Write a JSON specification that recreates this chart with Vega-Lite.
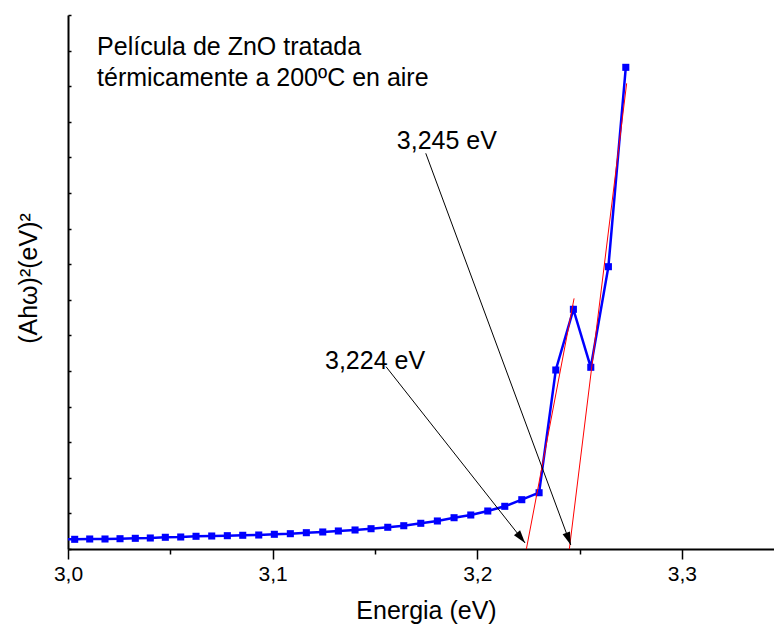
{
  "$schema": "https://vega.github.io/schema/vega-lite/v6.json",
  "width": 706,
  "height": 534,
  "autosize": "none",
  "padding": {"left": 68, "top": 15, "right": 0, "bottom": 79},
  "background": "white",
  "config": {"view": {"stroke": null}, "font": "Liberation Sans"},
  "datasets": {
    "spectrum": [
      {"E": 2.99604, "A": 0.27},
      {"E": 3.00327, "A": 0.272},
      {"E": 3.01061, "A": 0.281},
      {"E": 3.01808, "A": 0.281},
      {"E": 3.02542, "A": 0.289},
      {"E": 3.03289, "A": 0.300},
      {"E": 3.04022, "A": 0.309},
      {"E": 3.04756, "A": 0.329},
      {"E": 3.05508, "A": 0.337},
      {"E": 3.06256, "A": 0.357},
      {"E": 3.07023, "A": 0.365},
      {"E": 3.07786, "A": 0.374},
      {"E": 3.08539, "A": 0.385},
      {"E": 3.09321, "A": 0.393},
      {"E": 3.10083, "A": 0.413},
      {"E": 3.10865, "A": 0.430},
      {"E": 3.11647, "A": 0.458},
      {"E": 3.12449, "A": 0.478},
      {"E": 3.13211, "A": 0.506},
      {"E": 3.14027, "A": 0.534},
      {"E": 3.14809, "A": 0.570},
      {"E": 3.15626, "A": 0.610},
      {"E": 3.16408, "A": 0.654},
      {"E": 3.17239, "A": 0.722},
      {"E": 3.18050, "A": 0.787},
      {"E": 3.18866, "A": 0.879},
      {"E": 3.19682, "A": 0.955},
      {"E": 3.20513, "A": 1.067},
      {"E": 3.21344, "A": 1.199},
      {"E": 3.22175, "A": 1.385},
      {"E": 3.23021, "A": 1.581},
      {"E": 3.23837, "A": 5.028},
      {"E": 3.24697, "A": 6.733},
      {"E": 3.25547, "A": 5.104},
      {"E": 3.26408, "A": 7.930},
      {"E": 3.27258, "A": 13.53}
    ],
    "fits": [
      {"gap": "3,224 eV", "E": 3.224, "A": 0, "E2": 3.2473, "A2": 7.04},
      {"gap": "3,245 eV", "E": 3.245, "A": 0, "E2": 3.273, "A2": 13.08}
    ],
    "arrows": [
      {"gap": "3,224 eV", "E": 3.15543, "A": 5.12, "E2": 3.22336, "A2": 0.169},
      {"gap": "3,245 eV", "E": 3.17483, "A": 11.115, "E2": 3.2457, "A2": 0.112}
    ],
    "notes": [
      {"text": "3,224 eV", "E": 3.1256, "A": 5.05},
      {"text": "3,245 eV", "E": 3.1607, "A": 11.24},
      {"text": "Película de ZnO tratada\ntérmicamente a 200ºC en aire", "E": 3.0142, "A": 13.876}
    ]
  },
  "layer": [
    {
      "data": {"name": "spectrum"},
      "mark": {"type": "line", "color": "#0000FF", "strokeWidth": 2.5, "clip": true},
      "encoding": {
        "x": {
          "field": "E", "type": "quantitative",
          "scale": {"domain": [3.0, 3.345], "nice": false, "zero": false},
          "axis": {
            "values": [3.0, 3.05, 3.1, 3.15, 3.2, 3.25, 3.3],
            "tickCount": 20,
            "title": "Energia (eV)",
            "titleFontSize": 25, "titleFontWeight": "normal", "titleColor": "black",
            "titlePadding": 14, "titleX": 358,
            "labelExpr": "(round(datum.value*100) % 10 == 0) ? replace(format(datum.value, '.1f'), '.', ',') : ''",
            "labelFontSize": 21, "labelColor": "black", "labelPadding": 4,
            "labelFlush": false, "labelOverlap": false,
            "tickSize": {"condition": {"test": "round(datum.value*100) % 10 == 0", "value": 10}, "value": 5},
            "tickColor": "black", "tickWidth": 1.5,
            "domainColor": "black", "domainWidth": 2,
            "grid": false
          }
        },
        "y": {
          "field": "A", "type": "quantitative",
          "scale": {"domain": [0, 15], "nice": false, "zero": false},
          "axis": {
            "values": [0, 1, 2, 3, 4, 5, 6, 7, 8, 9, 10, 11, 12, 13, 14, 15],
            "tickCount": 20,
            "labels": false,
            "title": "(Ahω)²(eV)²",
            "titleFontSize": 25, "titleFontWeight": "normal", "titleColor": "black",
            "titlePadding": 26, "titleY": 263,
            "tickSize": -3, "tickColor": "black", "tickWidth": 1.5,
            "domainColor": "black", "domainWidth": 2,
            "grid": false
          }
        }
      }
    },
    {
      "data": {"name": "spectrum"},
      "mark": {"type": "point", "shape": "square", "filled": true, "color": "#0000FF", "size": 50, "opacity": 1, "clip": true},
      "encoding": {
        "x": {"field": "E", "type": "quantitative"},
        "y": {"field": "A", "type": "quantitative"}
      }
    },
    {
      "data": {"name": "fits"},
      "mark": {"type": "rule", "color": "#FF0000", "strokeWidth": 1},
      "encoding": {
        "x": {"field": "E", "type": "quantitative"},
        "y": {"field": "A", "type": "quantitative"},
        "x2": {"field": "E2"},
        "y2": {"field": "A2"}
      }
    },
    {
      "data": {"name": "arrows"},
      "mark": {"type": "rule", "color": "black", "strokeWidth": 1},
      "encoding": {
        "x": {"field": "E", "type": "quantitative"},
        "y": {"field": "A", "type": "quantitative"},
        "x2": {"field": "E2"},
        "y2": {"field": "A2"}
      }
    },
    {
      "data": {"name": "arrows"},
      "transform": [{"filter": "datum.gap == '3,224 eV'"}],
      "mark": {"type": "point", "shape": "M0,0L-0.3,-1L0.3,-1Z", "filled": true, "color": "black", "size": 676, "angle": -38.25, "opacity": 1},
      "encoding": {
        "x": {"field": "E2", "type": "quantitative"},
        "y": {"field": "A2", "type": "quantitative"}
      }
    },
    {
      "data": {"name": "arrows"},
      "transform": [{"filter": "datum.gap == '3,245 eV'"}],
      "mark": {"type": "point", "shape": "M0,0L-0.3,-1L0.3,-1Z", "filled": true, "color": "black", "size": 676, "angle": -20.3, "opacity": 1},
      "encoding": {
        "x": {"field": "E2", "type": "quantitative"},
        "y": {"field": "A2", "type": "quantitative"}
      }
    },
    {
      "data": {"name": "notes"},
      "mark": {"type": "text", "align": "left", "baseline": "alphabetic", "fontSize": 25, "color": "black", "lineBreak": "\n", "lineHeight": 31},
      "encoding": {
        "x": {"field": "E", "type": "quantitative"},
        "y": {"field": "A", "type": "quantitative"},
        "text": {"field": "text"}
      }
    },
    {
      "mark": {"type": "rule", "color": "black", "strokeWidth": 2},
      "encoding": {"y": {"datum": 15, "type": "quantitative"}}
    }
  ]
}
